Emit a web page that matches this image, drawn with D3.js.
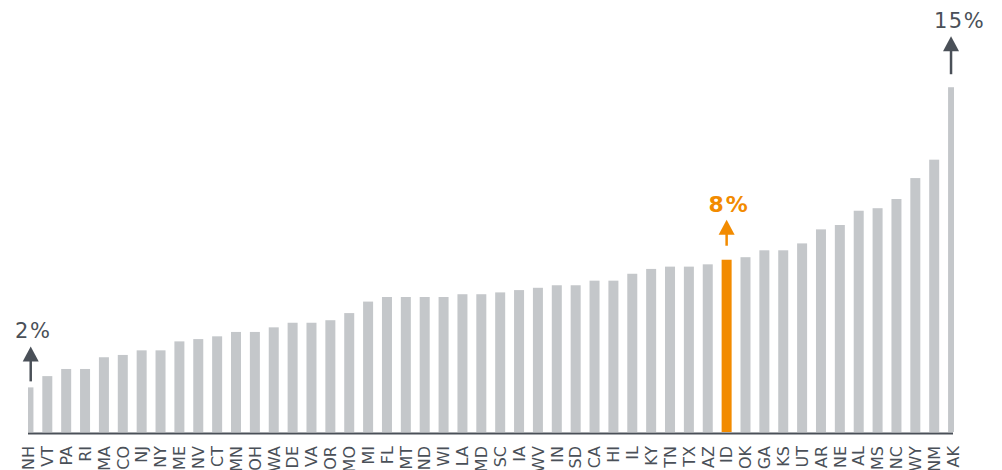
<!DOCTYPE html>
<html>
<head>
<meta charset="utf-8">
<script src="https://cdn.jsdelivr.net/npm/d3@7"></script>
<style>
  body { margin: 0; background: #fff; }
  svg { display: block; font-family: "DejaVu Sans", Verdana, sans-serif; }
</style>
</head>
<body>
<div id="graph"></div>
<script>
// State codes, sorted by value
var states = ["NH","VT","PA","RI","MA","CO","NJ","NY","ME","NV","CT","MN","OH","WA","DE","VA","OR",
              "MO","MI","FL","MT","ND","WI","LA","MD","SC","IA","WV","IN","SD","CA","HI","IL","KY",
              "TN","TX","AZ","ID","OK","GA","KS","UT","AR","NE","AL","MS","NC","WY","NM","AK"];

// Values in percent
var values = [1.94, 2.43, 2.74, 2.74, 3.25, 3.35, 3.55, 3.55, 3.94, 4.04, 4.16, 4.35, 4.35, 4.55, 4.75, 4.75, 4.86,
              5.17, 5.67, 5.87, 5.87, 5.87, 5.87, 5.99, 5.99, 6.07, 6.17, 6.27, 6.38, 6.38, 6.58, 6.58, 6.88, 7.09,
              7.19, 7.19, 7.29, 7.49, 7.60, 7.90, 7.90, 8.20, 8.81, 9.00, 9.62, 9.73, 10.13, 11.04, 11.84, 14.99];

// Callouts
var callStates = ["NH", "ID", "AK"];
var callLabels = ["2%", "8%", "15%"];
var highlight = "ID";

var width = 1002, height = 470;
var baseY = 432, axisL = 28, axisR = 953;

var data = states.map(function(s, i) { return { state: s, value: values[i] }; });

var x = d3.scaleBand()
    .domain(states)
    .range([14, 967.5])
    .paddingInner(0.47)
    .paddingOuter(0.5);

var y = d3.scaleLinear().domain([0, 15]).range([baseY, 87]);

var svg = d3.select("#graph")
    .append("svg")
    .attr("width", width)
    .attr("height", height);

svg.append("defs").append("clipPath")
    .attr("id", "plotclip")
  .append("rect")
    .attr("x", axisL).attr("y", 0)
    .attr("width", 954 - axisL).attr("height", baseY + 1);

// Bars
svg.append("g")
    .attr("clip-path", "url(#plotclip)")
  .selectAll("rect")
    .data(data)
  .enter().append("rect")
    .attr("x", function(d) { return x(d.state); })
    .attr("width", x.bandwidth())
    .attr("y", function(d) { return y(d.value); })
    .attr("height", function(d) { return baseY - y(d.value); })
    .attr("fill", function(d) { return d.state === highlight ? "#f28b00" : "#c4c7ca"; });

// Baseline
svg.append("line")
    .attr("x1", axisL).attr("x2", axisR)
    .attr("y1", baseY + 1.5).attr("y2", baseY + 1.5)
    .attr("stroke", "#4a5058")
    .attr("stroke-width", 2);

// State labels
var xAxis = d3.axisBottom(x).tickSize(0).tickPadding(0);
var gx = svg.append("g")
    .attr("transform", "translate(0," + baseY + ")")
    .call(xAxis);
gx.select(".domain").remove();
gx.selectAll("text")
    .attr("font-family", "DejaVu Sans, Verdana, sans-serif")
    .attr("font-size", 16)
    .attr("fill", "#4a5058")
    .attr("text-anchor", "end")
    .attr("dy", "0.36em")
    .attr("transform", "translate(0,14) rotate(-90)")
    .attr("x", 0).attr("y", 0);

// Callouts with arrows
function visibleCenter(s) {
  var x0 = Math.max(x(s), axisL), x1 = Math.min(x(s) + x.bandwidth(), 954);
  return (x0 + x1) / 2;
}

// arrow gaps above bar top: [tip, tail], and text offset
var tipGap = [41, 40, 51], tailGap = [6, 14, 13], textDx = [2.5, 2.5, 8.5];

callStates.forEach(function(s, i) {
  var d = data[states.indexOf(s)];
  var cx = visibleCenter(s);
  var top = y(d.value);
  var hl = s === highlight;
  var col = hl ? "#f28b00" : "#4a5058";
  var tip = top - tipGap[i];
  var bottom = top - tailGap[i];
  var g = svg.append("g");
  g.append("line")
    .attr("x1", cx).attr("x2", cx)
    .attr("y1", tip + 10).attr("y2", bottom)
    .attr("stroke", col).attr("stroke-width", 2.5);
  g.append("path")
    .attr("d", "M" + (cx - 8) + "," + (tip + 15) + "L" + cx + "," + tip + "L" + (cx + 8) + "," + (tip + 15) + "Z")
    .attr("fill", col);
  g.append("text")
    .attr("x", cx + textDx[i])
    .attr("y", tip - 8)
    .attr("text-anchor", "middle")
    .attr("font-size", hl ? 22 : 21)
    .attr("font-weight", hl ? "bold" : "normal")
    .attr("letter-spacing", hl ? 2 : 1.5)
    .attr("fill", col)
    .text(callLabels[i]);
});
</script>
</body>
</html>
